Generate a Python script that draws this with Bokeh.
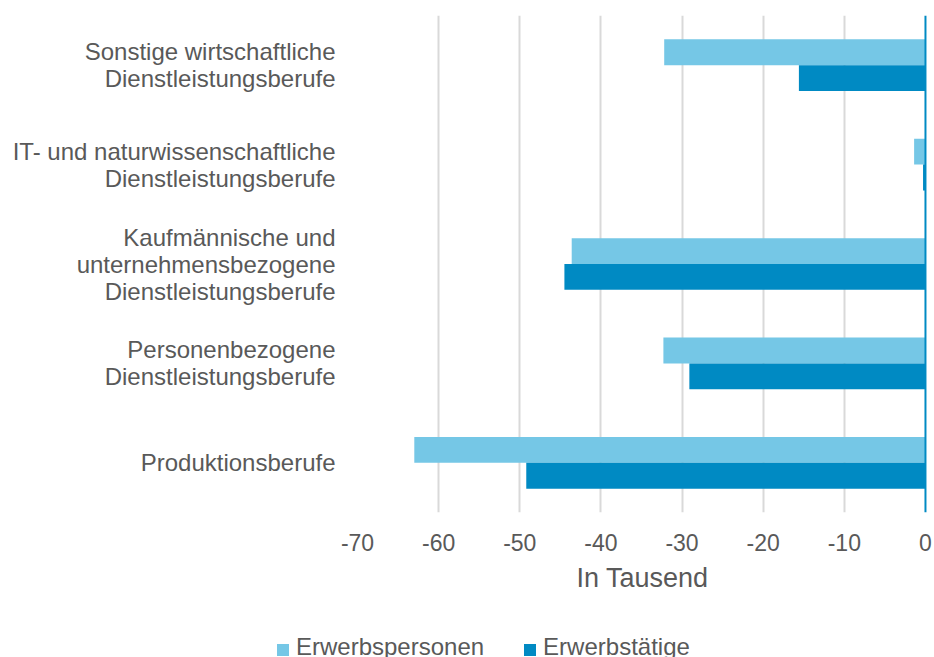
from bokeh.plotting import figure
from bokeh.layouts import column
from bokeh.models import (FactorRange, Range1d, ColumnDataSource, Div,
                          FixedTicker, Span, CustomJSTickFormatter)
from bokeh.transform import dodge
from bokeh.embed import file_html
from bokeh.resources import INLINE

categories = [
    "Sonstige wirtschaftliche\nDienstleistungsberufe",
    "IT- und naturwissenschaftliche\nDienstleistungsberufe",
    "Kaufmännische und\nunternehmensbezogene\nDienstleistungsberufe",
    "Personenbezogene\nDienstleistungsberufe",
    "Produktionsberufe",
]
erwerbspersonen = [-32.2, -1.4, -43.6, -32.3, -63.0]
erwerbstaetige = [-15.6, -0.3, -44.5, -29.1, -49.2]
x_ticks = [-70, -60, -50, -40, -30, -20, -10, 0]
series_names = ["Erwerbspersonen", "Erwerbstätige"]

LIGHT = "#75C7E6"
DARK = "#008AC3"
TXT = "#595959"
FONT = "Liberation Sans"

src = ColumnDataSource(dict(cat=categories, ep=erwerbspersonen, et=erwerbstaetige))

p = figure(width=934, height=620, output_backend="svg", toolbar_location=None,
           y_range=FactorRange(*list(reversed(categories)), range_padding=0),
           x_range=Range1d(-70, 0.25))
p.outline_line_color = None
p.min_border_top = 15
p.min_border_right = 7
p.min_border_left = 357
p.min_border_bottom = 108

r1 = p.hbar(y=dodge("cat", 0.13, range=p.y_range), left=0, right="ep", height=0.26,
            source=src, color=LIGHT, line_color=None)
r2 = p.hbar(y=dodge("cat", -0.13, range=p.y_range), left=0, right="et", height=0.26,
            source=src, color=DARK, line_color=None)

p.add_layout(Span(location=0, dimension="height", line_color=DARK, line_width=2))

p.xaxis.ticker = FixedTicker(ticks=x_ticks)
p.xaxis.formatter = CustomJSTickFormatter(code="return String(tick);")
p.xgrid.ticker = FixedTicker(ticks=x_ticks[:-1])
p.xgrid.grid_line_color = "#D9D9D9"
p.xgrid.grid_line_width = 2
p.ygrid.grid_line_color = None

p.xaxis.axis_line_color = None
p.xaxis.major_tick_line_color = None
p.xaxis.minor_tick_line_color = None
p.xaxis.major_label_text_font = FONT
p.xaxis.major_label_text_font_size = "23px"
p.xaxis.major_label_text_color = TXT
p.xaxis.major_label_standoff = 15
p.xaxis.axis_label = "In Tausend"
p.xaxis.axis_label_text_font = FONT
p.xaxis.axis_label_text_font_size = "27px"
p.xaxis.axis_label_text_font_style = "normal"
p.xaxis.axis_label_text_color = TXT
p.xaxis.axis_label_standoff = 9

p.yaxis.axis_line_color = None
p.yaxis.major_tick_line_color = None
p.yaxis.major_label_text_font = FONT
p.yaxis.major_label_text_font_size = "24px"
p.yaxis.major_label_text_line_height = 1.0
p.yaxis.major_label_text_color = TXT
p.yaxis.major_label_text_align = "center"
p.yaxis.major_label_standoff = 16

# legend strip below the chart
def swatch(color):
    return ('<span style="display:inline-block;width:12px;height:12px;'
            f'background:{color};margin-right:7px;vertical-align:-1px"></span>')

legend_html = (
    f'<div style="font-family:\'{FONT}\';font-size:24px;color:{TXT};'
    'padding-left:277px;padding-top:13px;line-height:28px;white-space:nowrap">'
    + swatch(LIGHT) + series_names[0]
    + '<span style="display:inline-block;width:40px"></span>'
    + swatch(DARK) + series_names[1]
    + '</div>'
)
lg = Div(text=legend_html, width=934, height=37, margin=0)

open("out.html", "w").write(file_html(column(p, lg, spacing=0), INLINE))
